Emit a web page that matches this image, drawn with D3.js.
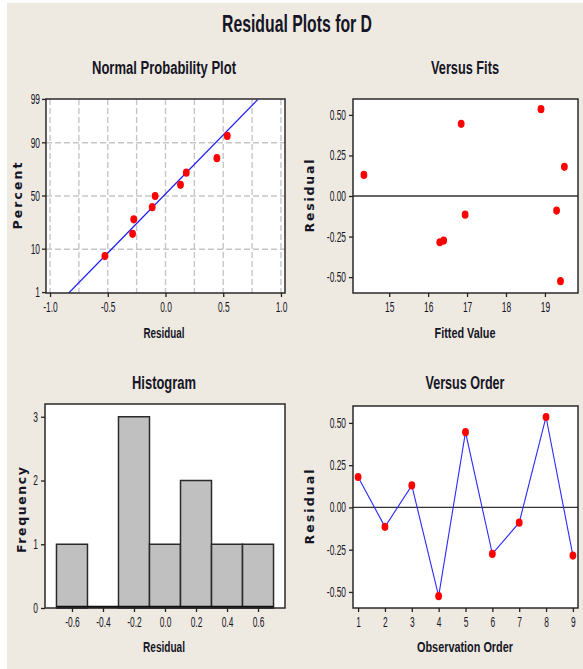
<!DOCTYPE html>
<html>
<head>
<meta charset="utf-8">
<script src="https://cdn.jsdelivr.net/npm/d3@7"></script>
<style>
  body { margin: 0; background: #fff; }
  svg { display: block; }
  text { font-family: "Liberation Sans", Arial, sans-serif; fill: #151525; }
</style>
</head>
<body>
<svg id="chart" width="583" height="669"></svg>
<script>
// Data
const order = [1, 2, 3, 4, 5, 6, 7, 8, 9];
const residuals = [0.18, -0.115, 0.13, -0.525, 0.445, -0.275, -0.09, 0.535, -0.285];
const fitted = [19.5, 16.95, 14.35, 19.4, 16.85, 16.4, 19.3, 18.9, 16.3];

// normal probability plot positions (percent) for sorted residuals
const probPct = [7.4, 18.1, 28.7, 39.4, 50, 60.6, 71.3, 81.9, 92.6];
const fitLineX = [-0.835, 0.80];
const fitLinePct = [1, 99];
const pctTicks = [1, 10, 50, 90, 99];

// histogram
const binEdges = [-0.7, -0.5, -0.3, -0.1, 0.1, 0.3, 0.5, 0.7];
const counts = [1, 0, 3, 1, 2, 1, 1];

const residTicks = [-0.5, -0.25, 0, 0.25, 0.5];

const svg = d3.select('#chart');

// background
svg.append('rect').attr('x', 7).attr('y', 3).attr('width', 576).attr('height', 666).attr('fill', '#efeae1');

// inverse normal cdf (Acklam)
function qnorm(p) {
    const a = [-3.969683028665376e+01, 2.209460984245205e+02, -2.759285104469687e+02, 1.383577518672690e+02, -3.066479806614716e+01, 2.506628277459239e+00];
    const b = [-5.447609879822406e+01, 1.615858368580409e+02, -1.556989798598866e+02, 6.680131188771972e+01, -1.328068155288572e+01];
    const c = [-7.784894002430293e-03, -3.223964580411365e-01, -2.400758277161838e+00, -2.549732539343734e+00, 4.374664141464968e+00, 2.938163982698783e+00];
    const d = [7.784695709041462e-03, 3.224671290700398e-01, 2.445134137142996e+00, 3.754408661907416e+00];
    const pl = 0.02425;
    if (p < pl) {
        const q = Math.sqrt(-2 * Math.log(p));
        return (((((c[0]*q+c[1])*q+c[2])*q+c[3])*q+c[4])*q+c[5]) / ((((d[0]*q+d[1])*q+d[2])*q+d[3])*q+1);
    }
    if (p > 1 - pl) {
        const q = Math.sqrt(-2 * Math.log(1 - p));
        return -(((((c[0]*q+c[1])*q+c[2])*q+c[3])*q+c[4])*q+c[5]) / ((((d[0]*q+d[1])*q+d[2])*q+d[3])*q+1);
    }
    const q = p - 0.5, r = q * q;
    return (((((a[0]*r+a[1])*r+a[2])*r+a[3])*r+a[4])*r+a[5])*q / (((((b[0]*r+b[1])*r+b[2])*r+b[3])*r+b[4])*r+1);
}

// squeeze text horizontally (the original font is very narrow)
function squeeze(sel, k) {
    sel.each(function() {
        const w = this.getComputedTextLength();
        d3.select(this).attr('textLength', w * k).attr('lengthAdjust', 'spacingAndGlyphs');
    });
}

function title(txt, x, y, size, width) {
    svg.append('text').attr('x', x).attr('y', y)
        .attr('text-anchor', 'middle')
        .style('font-size', size + 'px').style('font-weight', 'bold')
        .text(txt)
        .attr('textLength', width).attr('lengthAdjust', 'spacingAndGlyphs');
}

function vlabel(txt, x, y, len) {
    svg.append('text')
        .attr('transform', `translate(${x},${y}) rotate(-90)`)
        .attr('text-anchor', 'middle')
        .style('font-family', '"DejaVu Sans", Verdana, sans-serif')
        .style('font-size', '12.5px').style('font-weight', 'bold')
        .text(txt)
        .attr('textLength', len).attr('lengthAdjust', 'spacing');
}

function panel(box) {
    svg.append('rect')
        .attr('x', box.x0).attr('y', box.y0)
        .attr('width', box.x1 - box.x0).attr('height', box.y1 - box.y0)
        .attr('fill', '#fff');
}

function frame(box) {
    svg.append('rect')
        .attr('x', box.x0).attr('y', box.y0)
        .attr('width', box.x1 - box.x0).attr('height', box.y1 - box.y0)
        .attr('fill', 'none').attr('stroke', '#2a2a2a').attr('stroke-width', 1.5);
}

function styleAxis(g) {
    g.select('.domain').remove();
    g.selectAll('line').attr('stroke', '#222').attr('stroke-width', 1.3);
    g.selectAll('text')
        .style('font-family', '"Liberation Sans", Arial, sans-serif')
        .style('font-size', '14px').attr('fill', '#151525');
    squeeze(g.selectAll('text'), 0.6);
}

function drawAxes(box, xScale, yScale, xTicks, yTicks, xFmt, yFmt) {
    const gx = svg.append('g')
        .attr('transform', `translate(0,${box.y1})`)
        .call(d3.axisBottom(xScale).tickValues(xTicks).tickFormat(xFmt).tickSize(4).tickSizeOuter(0).tickPadding(4));
    gx.selectAll('text').attr('dy', '0.82em');
    styleAxis(gx);
    if (yScale) {
        const gy = svg.append('g')
            .attr('transform', `translate(${box.x0},0)`)
            .call(d3.axisLeft(yScale).tickValues(yTicks).tickFormat(yFmt).tickSize(4).tickSizeOuter(0).tickPadding(3));
        styleAxis(gy);
    }
}

function dot(x, y) {
    svg.append('ellipse').attr('cx', x).attr('cy', y).attr('rx', 3.4).attr('ry', 4.1).attr('fill', '#ff0000');
}

// main title
title('Residual Plots for D', 297, 32, 24, 150);

// ---------------- Normal Probability Plot ----------------
const b1 = {x0: 46, x1: 285, y0: 99, y1: 293};
const x1s = d3.scaleLinear().domain([-1.035, 1.035]).range([b1.x0, b1.x1]);
const y1z = d3.scaleLinear().domain([qnorm(0.01) - 0.01, qnorm(0.99) + 0.01]).range([b1.y1, b1.y0]);
const y1s = p => y1z(qnorm(p / 100));

panel(b1);
// grid
const gridX = d3.range(-1, 1.001, 0.25);
svg.append('g').selectAll('line').data(gridX).join('line')
    .attr('x1', d => x1s(d)).attr('x2', d => x1s(d))
    .attr('y1', b1.y0).attr('y2', b1.y1)
    .attr('stroke', '#c6c6c6').attr('stroke-width', 1.4).attr('stroke-dasharray', '6,3');
svg.append('g').selectAll('line').data([10, 50, 90]).join('line')
    .attr('x1', b1.x0).attr('x2', b1.x1)
    .attr('y1', d => y1s(d)).attr('y2', d => y1s(d))
    .attr('stroke', '#c6c6c6').attr('stroke-width', 1.4).attr('stroke-dasharray', '6,3');

svg.append('line')
    .attr('x1', x1s(fitLineX[0])).attr('y1', y1s(fitLinePct[0]))
    .attr('x2', x1s(fitLineX[1])).attr('y2', y1s(fitLinePct[1]))
    .attr('stroke', '#1a1aff').attr('stroke-width', 1.3);

const sorted = residuals.slice().sort((a, b) => a - b);
sorted.forEach((r, i) => dot(x1s(r), y1s(probPct[i])));
frame(b1);
drawAxes(b1, x1s, null, [-1, -0.5, 0, 0.5, 1], [], d => d.toFixed(1), null);
// y axis on probit scale
const gy1 = svg.append('g').attr('transform', `translate(${b1.x0},0)`);
pctTicks.forEach(p => {
    gy1.append('line').attr('x1', -4).attr('x2', 0).attr('y1', y1s(p)).attr('y2', y1s(p))
        .attr('stroke', '#222').attr('stroke-width', 1.3);
    gy1.append('text').attr('x', -6).attr('y', y1s(p)).attr('dy', '0.35em')
        .attr('text-anchor', 'end').style('font-size', '14px').text(p);
});
squeeze(gy1.selectAll('text'), 0.6);

title('Normal Probability Plot', 164, 74, 17.5, 144);
title('Residual', 164, 338, 14.5, 41);
vlabel('Percent', 22, 196, 67);

// ---------------- Versus Fits ----------------
const b2 = {x0: 353, x1: 578, y0: 99, y1: 293};
const x2s = d3.scaleLinear().domain([14.07, 19.85]).range([b2.x0, b2.x1]);
const y2s = d3.scaleLinear().domain([-0.598, 0.598]).range([b2.y1, b2.y0]);
panel(b2);
svg.append('line').attr('x1', b2.x0).attr('x2', b2.x1).attr('y1', y2s(0)).attr('y2', y2s(0))
    .attr('stroke', '#333').attr('stroke-width', 1.3);
fitted.forEach((f, i) => dot(x2s(f), y2s(residuals[i])));
frame(b2);
drawAxes(b2, x2s, y2s, [15, 16, 17, 18, 19], residTicks, d => d, d => d.toFixed(2));
title('Versus Fits', 465, 74, 17.5, 68);
title('Fitted Value', 465, 338, 14.5, 61);
vlabel('Residual', 314, 196, 73);

// ---------------- Histogram ----------------
const b3 = {x0: 45, x1: 285, y0: 404, y1: 608};
const x3s = d3.scaleLinear().domain([-0.774, 0.774]).range([b3.x0, b3.x1]);
const y3s = d3.scaleLinear().domain([0, 3.2]).range([b3.y1, b3.y0]);
panel(b3);
svg.append('g').selectAll('rect').data(counts).join('rect')
    .attr('x', (d, i) => x3s(binEdges[i]))
    .attr('y', d => y3s(d))
    .attr('width', (d, i) => x3s(binEdges[i + 1]) - x3s(binEdges[i]))
    .attr('height', d => y3s(0) - y3s(d))
    .attr('fill', '#c0c0c0').attr('stroke', '#2a2a2a').attr('stroke-width', 1.5);
svg.append('line').attr('x1', x3s(binEdges[0])).attr('x2', x3s(binEdges[binEdges.length - 1]))
    .attr('y1', y3s(0) - 1).attr('y2', y3s(0) - 1).attr('stroke', '#111').attr('stroke-width', 2.5);
frame(b3);
drawAxes(b3, x3s, y3s, [-0.6, -0.4, -0.2, 0, 0.2, 0.4, 0.6], [0, 1, 2, 3], d => d.toFixed(1), d => d);
title('Histogram', 164, 389, 17.5, 64);
title('Residual', 164, 652, 14.5, 42);
vlabel('Frequency', 26, 510, 86);

// ---------------- Versus Order ----------------
const b4 = {x0: 353, x1: 578, y0: 406, y1: 608};
const x4s = d3.scaleLinear().domain([0.81, 9.19]).range([b4.x0, b4.x1]);
const y4s = d3.scaleLinear().domain([-0.595, 0.6]).range([b4.y1, b4.y0]);
panel(b4);
svg.append('line').attr('x1', b4.x0).attr('x2', b4.x1).attr('y1', y4s(0)).attr('y2', y4s(0))
    .attr('stroke', '#333').attr('stroke-width', 1.3);
svg.append('path')
    .datum(order)
    .attr('fill', 'none').attr('stroke', '#2a2aff').attr('stroke-width', 1.1)
    .attr('d', d3.line().x(d => x4s(d)).y((d, i) => y4s(residuals[i])));
order.forEach((o, i) => dot(x4s(o), y4s(residuals[i])));
frame(b4);
drawAxes(b4, x4s, y4s, order, residTicks, d => d, d => d.toFixed(2));
title('Versus Order', 465, 389, 17.5, 79);
title('Observation Order', 465, 652, 14.5, 96);
vlabel('Residual', 314, 507, 75);
</script>
</body>
</html>
